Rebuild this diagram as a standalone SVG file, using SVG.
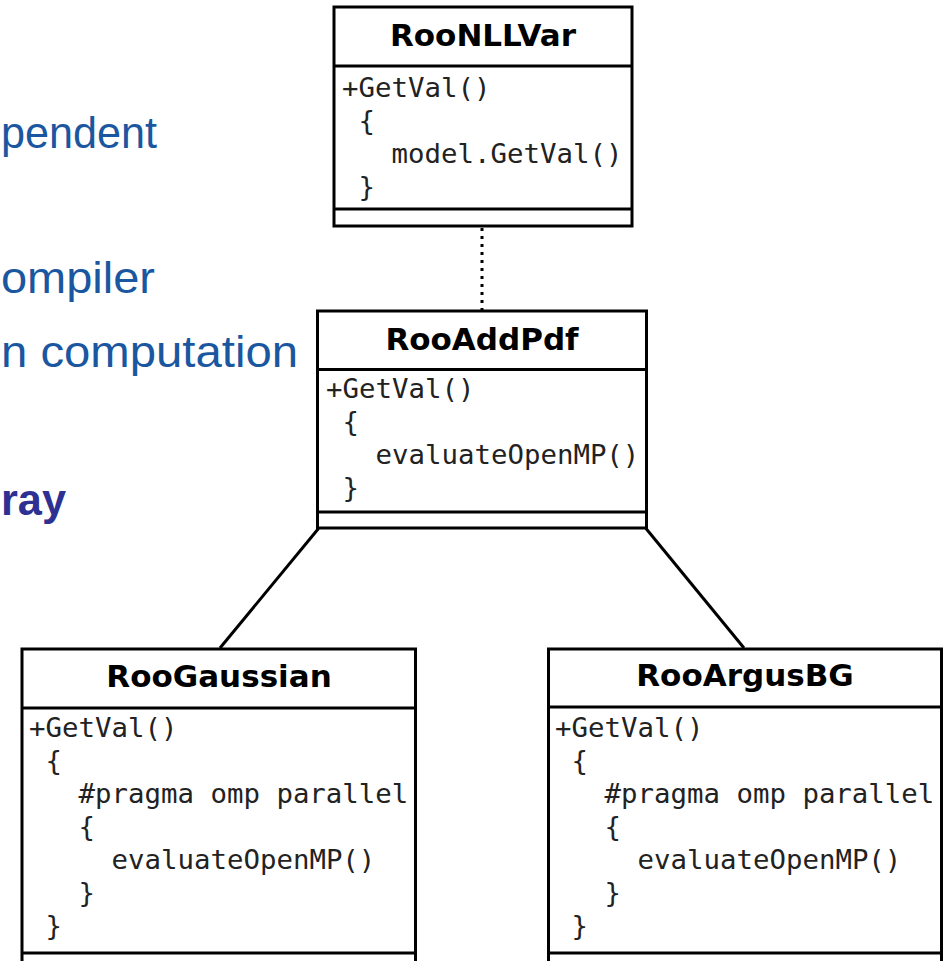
<svg xmlns="http://www.w3.org/2000/svg" width="952" height="961" viewBox="0 0 952 961">
<style>
.box{fill:#fff;stroke:#000;stroke-width:3}
.sep{stroke:#000;stroke-width:3}
.title{font-family:"DejaVu Sans",sans-serif;font-weight:bold;font-size:31px;fill:#000;text-anchor:middle}
.code{font-family:"DejaVu Sans Mono",monospace;font-size:27.4px;fill:#222}
.slide{font-family:"Liberation Sans",Arial,sans-serif;font-size:45px;fill:#1B57A0}
.slideb{font-family:"Liberation Sans",Arial,sans-serif;font-size:45px;font-weight:bold;fill:#2E3192}
.conn{stroke:#000;stroke-width:3;fill:none}
</style>
<rect width="952" height="961" fill="#fff"/>
<g id="slide-text">
<text class="slide" x="1" y="148" textLength="156" lengthAdjust="spacingAndGlyphs">pendent</text>
<text class="slide" x="1" y="293" textLength="154" lengthAdjust="spacingAndGlyphs">ompiler</text>
<text class="slide" x="1" y="366.5" textLength="297" lengthAdjust="spacingAndGlyphs">n computation</text>
<text class="slideb" x="1" y="515" textLength="65" lengthAdjust="spacingAndGlyphs">ray</text>
</g>
<g id="connectors">
<line class="conn" x1="482" y1="228" x2="482" y2="310" stroke-dasharray="3 5"/>
<line class="conn" x1="318.5" y1="528.5" x2="220" y2="648"/>
<line class="conn" x1="646" y1="528.5" x2="744" y2="648"/>
</g>
<g id="RooNLLVar">
<rect class="box" x="334" y="7" width="298" height="219"/>
<line class="sep" x1="334" y1="66" x2="632" y2="66"/>
<line class="sep" x1="334" y1="209" x2="632" y2="209"/>
<text class="title" x="483" y="46">RooNLLVar</text>
<text class="code" x="342" y="96.5">+GetVal()</text>
<text class="code" x="358.5" y="129.5">{</text>
<text class="code" x="391.5" y="162.5">model.GetVal()</text>
<text class="code" x="358.5" y="195.5">}</text>
</g>
<g id="RooAddPdf">
<rect class="box" x="317.5" y="311" width="329" height="217"/>
<line class="sep" x1="317.5" y1="369.5" x2="646.5" y2="369.5"/>
<line class="sep" x1="317.5" y1="512" x2="646.5" y2="512"/>
<text class="title" x="482" y="350">RooAddPdf</text>
<text class="code" x="326" y="398">+GetVal()</text>
<text class="code" x="342.5" y="431">{</text>
<text class="code" x="375.5" y="464">evaluateOpenMP()</text>
<text class="code" x="342.5" y="497">}</text>
</g>
<g id="RooGaussian">
<rect class="box" x="22" y="649" width="393.5" height="330"/>
<line class="sep" x1="22" y1="708" x2="415.5" y2="708"/>
<line class="sep" x1="22" y1="953" x2="415.5" y2="953"/>
<text class="title" x="219" y="687">RooGaussian</text>
<text class="code" x="29" y="737">+GetVal()</text>
<text class="code" x="45.5" y="770">{</text>
<text class="code" x="78.5" y="803">#pragma omp parallel</text>
<text class="code" x="78.5" y="836">{</text>
<text class="code" x="111.5" y="869">evaluateOpenMP()</text>
<text class="code" x="78.5" y="902">}</text>
<text class="code" x="45.5" y="935">}</text>
</g>
<g id="RooArgusBG">
<rect class="box" x="548.5" y="649" width="393" height="330"/>
<line class="sep" x1="548.5" y1="707" x2="941.5" y2="707"/>
<line class="sep" x1="548.5" y1="953" x2="941.5" y2="953"/>
<text class="title" x="745" y="686">RooArgusBG</text>
<text class="code" x="555" y="737">+GetVal()</text>
<text class="code" x="571.5" y="770">{</text>
<text class="code" x="604.5" y="803">#pragma omp parallel</text>
<text class="code" x="604.5" y="836">{</text>
<text class="code" x="637.5" y="869">evaluateOpenMP()</text>
<text class="code" x="604.5" y="902">}</text>
<text class="code" x="571.5" y="935">}</text>
</g>
</svg>
